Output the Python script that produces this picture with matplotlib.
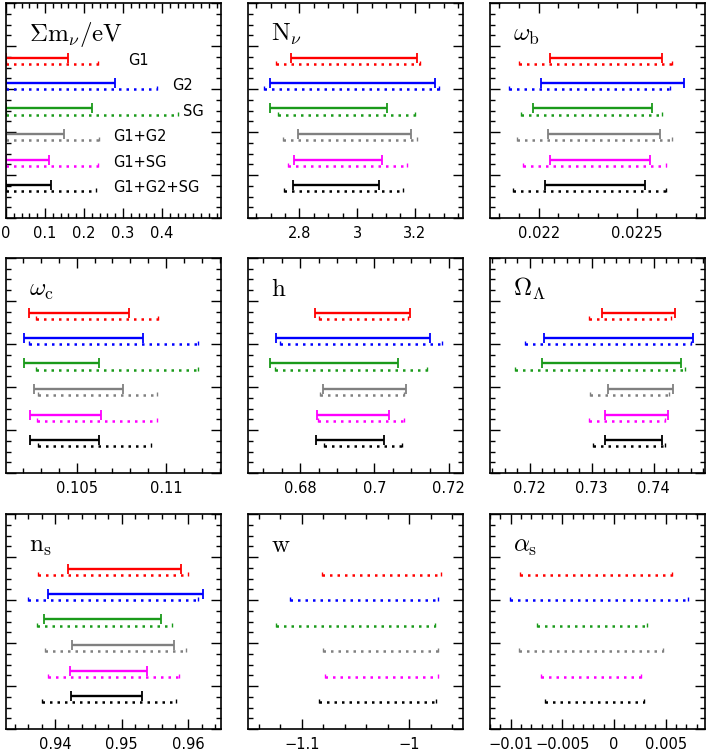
import numpy as np
import matplotlib
matplotlib.use('Agg')
import matplotlib.pyplot as plt
from matplotlib.ticker import MultipleLocator, FuncFormatter, FixedLocator

plt.rcParams['font.family'] = 'DejaVu Sans'
plt.rcParams['mathtext.fontset'] = 'cm'

datasets = ['G1', 'G2', 'SG', 'G1+G2', 'G1+SG', 'G1+G2+SG']
colors = ['red', 'blue', '#1a9a1a', 'gray', 'magenta', 'black']

# 68% intervals (solid) and 95%-ish intervals (dotted)
mnu_lo = [0, 0, 0, 0, 0, 0]
mnu_hi = [0.160, 0.280, 0.221, 0.149, 0.111, 0.115]
mnu_dlo = [0, 0, 0, 0, 0, 0]
mnu_dhi = [0.235, 0.386, 0.442, 0.238, 0.235, 0.230]

nnu_lo = [2.770, 2.699, 2.699, 2.794, 2.782, 2.779]
nnu_hi = [3.209, 3.271, 3.102, 3.188, 3.085, 3.077]
nnu_dlo = [2.718, 2.676, 2.725, 2.745, 2.759, 2.748]
nnu_dhi = [3.217, 3.284, 3.200, 3.208, 3.173, 3.160]

ob_lo = [0.02206, 0.02201, 0.02197, 0.02205, 0.02206, 0.02203]
ob_hi = [0.02263, 0.02274, 0.02258, 0.02262, 0.02257, 0.02254]
ob_dlo = [0.02190, 0.02185, 0.02191, 0.02189, 0.02192, 0.02187]
ob_dhi = [0.02268, 0.02267, 0.02263, 0.02268, 0.02265, 0.02265]

oc_lo = [0.10230, 0.10203, 0.10203, 0.10263, 0.10239, 0.10241]
oc_hi = [0.10795, 0.10873, 0.10627, 0.10758, 0.10636, 0.10627]
oc_dlo = [0.10272, 0.10231, 0.10272, 0.10282, 0.10276, 0.10285]
oc_dhi = [0.10957, 0.11177, 0.11177, 0.10948, 0.10950, 0.10916]

h_lo = [0.6840, 0.6734, 0.6719, 0.6860, 0.6845, 0.6843]
h_hi = [0.7095, 0.7151, 0.7063, 0.7085, 0.7040, 0.7027]
h_dlo = [0.6851, 0.6746, 0.6733, 0.6854, 0.6849, 0.6863]
h_dhi = [0.7090, 0.7182, 0.7142, 0.7080, 0.7079, 0.7074]

ol_lo = [0.7317, 0.7223, 0.7220, 0.7326, 0.7322, 0.7321]
ol_hi = [0.7434, 0.7464, 0.7444, 0.7431, 0.7423, 0.7414]
ol_dlo = [0.7295, 0.7193, 0.7176, 0.7297, 0.7295, 0.7303]
ol_dhi = [0.7428, 0.7460, 0.7450, 0.7425, 0.7418, 0.7419]

ns_lo = [0.9420, 0.9390, 0.9384, 0.9425, 0.9423, 0.9424]
ns_hi = [0.9589, 0.9622, 0.9559, 0.9579, 0.9538, 0.9530]
ns_dlo = [0.9374, 0.9360, 0.9373, 0.9385, 0.9389, 0.9381]
ns_dhi = [0.9600, 0.9614, 0.9576, 0.9596, 0.9586, 0.9581]

w_dlo = [-1.0809, -1.1108, -1.1241, -1.0802, -1.0784, -1.0840]
w_dhi = [-0.9707, -0.9735, -0.9759, -0.9735, -0.9735, -0.9750]

as_dlo = [-0.00909, -0.01006, -0.00747, -0.00919, -0.00708, -0.00669]
as_dhi = [0.00558, 0.00714, 0.00321, 0.00477, 0.00256, 0.00289]

# title, solid lo/hi, dotted lo/hi, xlim, major, minor
panels = [
    (r'$\Sigma\mathrm{m}_\nu/\mathrm{eV}$', mnu_lo, mnu_hi, mnu_dlo, mnu_dhi, (0, 0.551), 0.1, 0.02),
    (r'$\mathrm{N}_\nu$', nnu_lo, nnu_hi, nnu_dlo, nnu_dhi, (2.622, 3.367), 0.2, 0.05),
    (r'$\omega_\mathrm{b}$', ob_lo, ob_hi, ob_dlo, ob_dhi, (0.021752, 0.022848), 0.0005, 0.0001),
    (r'$\omega_\mathrm{c}$', oc_lo, oc_hi, oc_dlo, oc_dhi, (0.10104, 0.11308), 0.005, 0.001),
    (r'$\mathrm{h}$', h_lo, h_hi, h_dlo, h_dhi, (0.6659, 0.7239), 0.02, 0.005),
    (r'$\Omega_\Lambda$', ol_lo, ol_hi, ol_dlo, ol_dhi, (0.7136, 0.7483), 0.01, 0.002),
    (r'$\mathrm{n}_\mathrm{s}$', ns_lo, ns_hi, ns_dlo, ns_dhi, (0.93265, 0.9649), 0.01, 0.002),
    (r'$\mathrm{w}$', None, None, w_dlo, w_dhi, (-1.15, -0.95), 0.1, 0.02),
    (r'$\alpha_\mathrm{s}$', None, None, as_dlo, as_dhi, (-0.012, 0.0088), 0.005, 0.001),
]

ypos = [3.73, 3.15, 2.55, 1.96, 1.36, 0.77]
dy = 0.15


def fmt(v, pos):
    if abs(v) < 1e-12: return '0'
    return ('%g' % v).replace('-', '\u2212')


fig = plt.figure(figsize=(7.08, 7.53), dpi=100)
lefts = [6/708., 248/708., 490/708.]
bottoms = [1-218/753., 1-473/753., 1-729/753.]
w_ax, h_ax = 215/708., 215/753.

for k, (title, lo, hi, dlo, dhi, xlim, major, minor) in enumerate(panels):
    ax = fig.add_axes([lefts[k % 3], bottoms[k // 3], w_ax, h_ax])
    for i in range(6):
        c = colors[i]
        if lo is not None:
            ax.plot([lo[i], hi[i]], [ypos[i], ypos[i]], '-', color=c, lw=1.7, solid_capstyle='butt')
            ax.plot([lo[i], hi[i]], [ypos[i], ypos[i]], ls='none', marker='|', ms=7, mew=1.3, color=c)
        yd = ypos[i] - dy
        ax.plot([dlo[i], dhi[i]], [yd, yd], ls=(0, (1, 2)), color=c, lw=1.8)
        ax.plot([dlo[i], dhi[i]], [yd + 0.03, yd + 0.03], ls='none', marker='|', ms=3, mew=1.0, color=c)
    if k == 0:
        for i in range(6):
            tx = [0.312, 0.427, 0.453, 0.274, 0.274, 0.274][i]
            ax.text(tx, ypos[i] - 0.07, datasets[i], fontsize=10.5, va='center', ha='left')
    ax.text(0.105, 0.825, title, transform=ax.transAxes, fontsize=18, va='baseline', ha='left')
    ax.xaxis.set_major_locator(MultipleLocator(major))
    if k == 0:
        ax.xaxis.set_major_locator(FixedLocator([0, 0.1, 0.2, 0.3, 0.4]))
    ax.xaxis.set_minor_locator(MultipleLocator(minor))
    ax.xaxis.set_major_formatter(FuncFormatter(fmt))
    ax.set_xlim(*xlim)
    ax.set_ylim(0, 5)
    ax.yaxis.set_major_locator(MultipleLocator(1))
    ax.yaxis.set_minor_locator(MultipleLocator(0.25))
    ax.tick_params(which='both', direction='in', top=True, right=True, width=1.0)
    ax.tick_params(which='major', length=7, labelsize=10.5, pad=6)
    ax.tick_params(which='minor', length=3.5)
    ax.tick_params(axis='y', labelleft=False)
    for s in ax.spines.values():
        s.set_linewidth(1.2)

plt.savefig('out.png', dpi=100)
